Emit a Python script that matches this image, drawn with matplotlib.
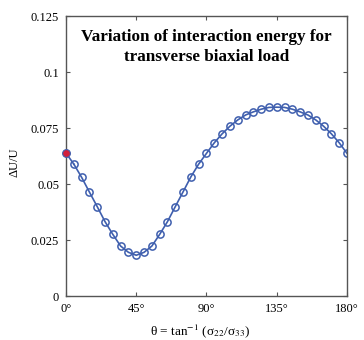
import matplotlib
matplotlib.use('Agg')
import matplotlib.pyplot as plt

plt.rcParams['font.family'] = ['Liberation Serif', 'DejaVu Serif']
plt.rcParams['mathtext.fontset'] = 'stix'

# theta in degrees, energy ratio
theta = [0, 5, 10, 15, 20, 25, 30, 35, 40, 45, 50, 55, 60, 65, 70, 75, 80, 85, 90,
         95, 100, 105, 110, 115, 120, 125, 130, 135, 140, 145, 150, 155, 160, 165, 170, 175, 180]
du_u = [0.0638, 0.0589, 0.0530, 0.0464, 0.0399, 0.0332, 0.0275, 0.0223, 0.0195, 0.0182,
        0.0195, 0.0223, 0.0275, 0.0332, 0.0399, 0.0465, 0.0532, 0.0589, 0.0637,
        0.0684, 0.0724, 0.0758, 0.0786, 0.0808, 0.0822, 0.0834, 0.0842, 0.0843,
        0.0842, 0.0834, 0.0822, 0.0808, 0.0786, 0.0758, 0.0724, 0.0684, 0.0637]

xticks = [0, 45, 90, 135, 180]
xtick_labels = ['0°', '45°', '90°', '135°', '180°']
yticks = [0, 0.025, 0.05, 0.075, 0.1, 0.125]
ytick_labels = ['0', '0.025', '0.05', '0.075', '0.1', '0.125']

blue = '#3f5fae'
red = '#d21f3c'

fig = plt.figure(figsize=(3.64, 3.40), dpi=100)
ax = fig.add_axes([0.1813, 0.1294, 0.772, 0.8235])

ax.plot(theta[1:], du_u[1:], color=blue, lw=1.2, marker='o', ms=5.2,
        mfc='none', mec=blue, mew=1.1)
ax.plot(theta[:2], du_u[:2], color=blue, lw=1.2)
ax.plot(theta[0], du_u[0], marker='o', ms=5.6, mfc=red, mec=blue, mew=0.8,
        clip_on=False, zorder=5)

ax.set_xlim(0, 180)
ax.set_ylim(0, 0.125)
ax.set_xticks(xticks)
ax.set_xticklabels(xtick_labels)
ax.set_yticks(yticks)
ax.set_yticklabels(ytick_labels)
ax.tick_params(direction='in', length=3, width=0.8, color='#555555',
               labelsize=9, top=True, right=True, pad=5)
for s in ax.spines.values():
    s.set_color('#555555')
    s.set_linewidth(1.0)

ax.text(0.5, 0.955, 'Variation of interaction energy for\ntransverse biaxial load',
        transform=ax.transAxes, ha='center', va='top', fontsize=12.3,
        fontweight='bold', linespacing=1.35)

fig.text(0.04, 0.522, 'ΔU/U', rotation=90, ha='center', va='center', fontsize=9)
fig.text(0.55, 0.025, 'θ = tan$^{-1}$ (σ$_{22}$/σ$_{33}$)',
         ha='center', va='center', fontsize=9.5)

fig.savefig('out.png', dpi=100)
